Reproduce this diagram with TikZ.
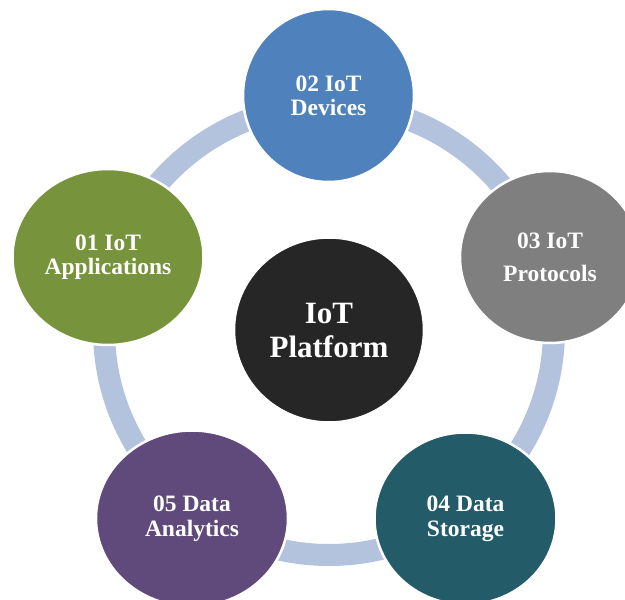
\documentclass[tikz,border=0pt]{standalone}
\usepackage{fontspec}
\setmainfont{Liberation Serif}
\usetikzlibrary{shapes.geometric}
\definecolor{cblue}{HTML}{4F81BD}
\definecolor{cgreen}{HTML}{77933C}
\definecolor{cgrey}{HTML}{7F7F7F}
\definecolor{cdark}{HTML}{262626}
\definecolor{cpurple}{HTML}{604A7B}
\definecolor{cteal}{HTML}{245B68}
\definecolor{cring}{HTML}{B4C3DD}
\tikzset{
  bubble/.style={ellipse, inner sep=0pt, draw=white, line width=2.5pt,
    text=white, align=center, font=\bfseries\fontsize{23.5}{24}\selectfont},
  ringline/.style={draw=cring, line width=22pt},
}
\begin{document}
\begin{tikzpicture}[x=1pt,y=-1pt]
\useasboundingbox (0,0) rectangle (625,600);
\clip (0,0) rectangle (625,600);
\fill[white] (0,0) rectangle (625,600);
\coordinate (o) at (329,330);
\draw[ringline] (o) circle[radius=225];
\node[bubble, fill=cdark, minimum width=190pt, minimum height=185pt,
  font=\bfseries\fontsize{31}{34}\selectfont] (c) at (o) {IoT\\Platform};
\node[bubble, fill=cblue, minimum width=171pt, minimum height=173pt] (n2) at (328.5,95.5) {02 IoT\\Devices};
\node[bubble, fill=cgreen, minimum width=191pt, minimum height=176pt] (n1) at (108,257) {01 IoT\\Applications};
\node[bubble, fill=cgrey, minimum width=180pt, minimum height=172pt,
  font=\bfseries\fontsize{23.5}{33}\selectfont] (n3) at (550,257) {03 IoT\\Protocols};
\node[bubble, fill=cpurple, minimum width=192pt, minimum height=176pt,
  font=\bfseries\fontsize{23.5}{25}\selectfont] (n5) at (192,518.5) {05 Data\\Analytics};
\node[bubble, fill=cteal, minimum width=182pt, minimum height=172pt,
  font=\bfseries\fontsize{23.5}{25}\selectfont] (n4) at (465.5,518.5) {04 Data\\Storage};
\end{tikzpicture}
\end{document}
